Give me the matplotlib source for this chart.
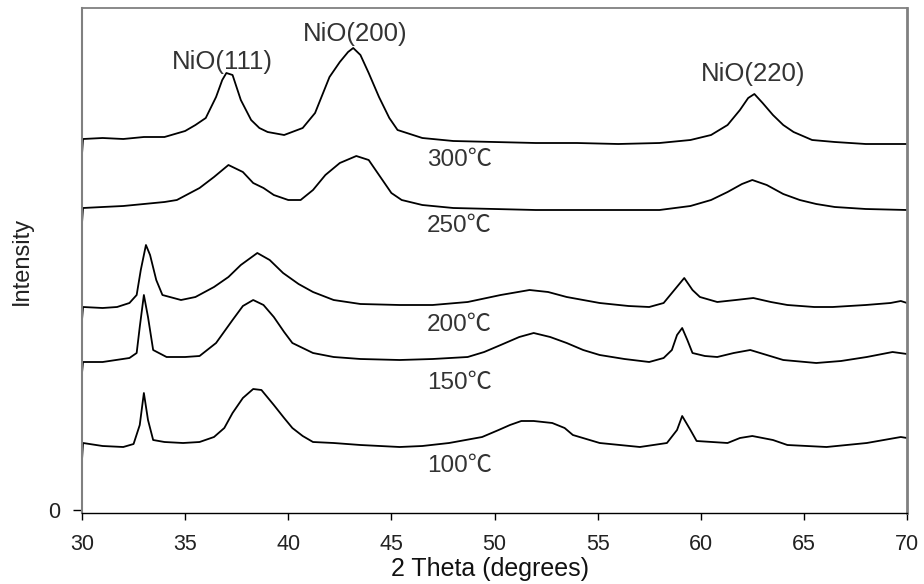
import matplotlib
matplotlib.use('Agg')
import matplotlib.pyplot as plt

plt.rcParams['font.family'] = ['Liberation Sans', 'Noto Sans CJK KR', 'DejaVu Sans']

# XRD patterns, offset already included (arbitrary units)
tt300 = [30.0, 30.05, 31, 32, 33, 34, 35, 35.5, 36, 36.5, 36.8, 37.0, 37.3, 37.7, 38.2, 38.6, 39.0, 39.8,
         40.7, 41.3, 42.0, 42.5, 42.9, 43.15, 43.5, 43.9, 44.4, 44.9, 45.3, 46.5, 48, 50, 52, 54, 56, 58,
         59.5, 60.5, 61.3, 61.9, 62.3, 62.6, 63.0, 63.5, 64.0, 64.5, 65.4, 66.5, 68, 70]
i300 = [356, 371, 372, 371, 373, 373, 379, 385, 392, 413, 430, 437, 435, 410, 390, 382, 378, 375,
        382, 397, 433, 448, 458, 462, 455, 437, 413, 392, 380, 372, 369, 368, 367, 367, 366, 367,
        370, 375, 385, 400, 412, 416, 407, 395, 385, 378, 370, 368, 366, 366]

tt250 = [30.0, 30.05, 31, 32, 33, 34, 34.6, 35.7, 36.4, 37.1, 37.8, 38.3, 38.8, 39.3, 40.0, 40.6, 41.2,
         41.8, 42.5, 43.3, 43.9, 44.5, 45.0, 45.5, 46.5, 48, 50, 52, 54, 56, 58, 59.5, 60.5, 61.3, 62.0,
         62.5, 63.2, 64.0, 64.8, 65.6, 66.5, 68, 70]
i250 = [287, 302, 303, 304, 306, 308, 310, 322, 333, 345, 338, 327, 322, 315, 310, 310, 320,
        335, 347, 354, 350, 332, 317, 310, 305, 302, 301, 300, 300, 300, 300, 304, 310, 318, 326,
        330, 325, 316, 310, 306, 303, 301, 300]

tt200 = [30.0, 30.05, 31, 31.7, 32.3, 32.65, 32.85, 33.1, 33.3, 33.6, 33.9, 34.8, 35.5, 36.4, 37.1, 37.7,
         38.5, 39.1, 39.75, 40.5, 41.2, 42.2, 43.5, 45.4, 47, 48.7, 50.3, 51.7, 52.6, 53.5, 55.1, 56.5,
         57.5, 58.2, 58.6, 59.2, 59.6, 59.96, 60.8, 61.7, 62.55, 63.4, 64.2, 65.5, 66.4, 68, 69.2, 69.7, 70]
i200 = [190, 203, 202, 203, 207, 215, 240, 265, 255, 230, 215, 210, 213, 223, 233, 245,
        257, 250, 237, 226, 218, 210, 206, 205, 205, 208, 215, 220, 218, 213, 207, 204,
        203, 207, 217, 232, 220, 213, 208, 210, 212, 208, 205, 203, 203, 205, 207, 209, 207]

tt150 = [30.0, 30.05, 31, 32.3, 32.65, 32.8, 33.0, 33.2, 33.45, 34.1, 35, 35.7, 36.5, 37.3, 37.8, 38.3,
         38.8, 39.3, 39.8, 40.2, 40.6, 41.2, 42.2, 43.5, 45.4, 47, 48.7, 49.5, 50.3, 51.2, 51.9, 52.7,
         53.5, 54.3, 55.1, 56.3, 57.5, 58.2, 58.6, 58.85, 59.1, 59.35, 59.6, 60.2, 60.8, 61.6, 62.4,
         63.2, 64, 65.6, 66.8, 68.05, 69.3, 70]
i150 = [137, 148, 148, 152, 157, 183, 215, 193, 160, 153, 153, 154, 167, 190, 204, 210,
        205, 193, 178, 167, 163, 157, 153, 151, 150, 151, 153, 158, 165, 173, 177, 173,
        167, 160, 155, 151, 148, 152, 160, 175, 182, 170, 157, 154, 153, 157, 160,
        155, 150, 147, 149, 153, 158, 156]

tt100 = [30.0, 30.05, 31, 32, 32.5, 32.8, 33.0, 33.2, 33.45, 34, 34.9, 35.7, 36.4, 36.9, 37.3, 37.8,
         38.3, 38.7, 39.3, 39.8, 40.2, 40.7, 41.2, 42.2, 43.5, 45.4, 46.5, 47.8, 49.4, 50.2, 50.75,
         51.3, 51.9, 52.8, 53.4, 53.8, 55.1, 57.05, 58.36, 58.85, 59.1, 59.5, 59.8, 61.3, 61.9, 62.5,
         63.5, 64.2, 66.1, 68.05, 69.7, 70]
i100 = [50, 67, 64, 63, 66, 85, 117, 90, 70, 68, 67, 68, 73, 82, 97, 112,
        121, 120, 105, 92, 82, 74, 68, 67, 65, 63, 64, 67, 73, 80, 85,
        89, 89, 87, 82, 75, 67, 63, 67, 80, 94, 80, 69, 67, 72, 74,
        70, 65, 63, 67, 73, 72]

temps = ['300℃', '250℃', '200℃', '150℃', '100℃']
temp_y = [350, 284, 185, 127, 44]
peaks = ['NiO(111)', 'NiO(200)', 'NiO(220)']
peak_x = [36.79, 43.24, 62.53]
peak_y = [448, 476, 436]

fig = plt.figure(figsize=(9.24, 5.84), dpi=100)
ax = fig.add_axes([82/924, 1-513/584, 825/924, 505/584])

for x, y in [(tt300, i300), (tt250, i250), (tt200, i200), (tt150, i150), (tt100, i100)]:
    ax.plot(x, y, color='black', linewidth=1.3)

for t, y in zip(temps, temp_y):
    ax.text(46.73, y, t, fontsize=17.5, color='#333333', ha='left', va='center')
for p, x, y in zip(peaks, peak_x, peak_y):
    ax.text(x, y, p, fontsize=18.5, color='#333333', ha='center', va='center')

ax.set_xlim(30, 70)
ax.set_ylim(-3, 502)
ax.set_xticks(range(30, 71, 5))
ax.set_yticks([0])
ax.tick_params(axis='x', direction='out', length=5, width=1, pad=10, labelsize=15.5, labelcolor='#222222')
ax.tick_params(axis='y', direction='out', length=6.5, width=1, pad=9, labelsize=15.5, labelcolor='#222222')
ax.set_xlabel('2 Theta (degrees)', fontsize=18, color='#111111')
ax.xaxis.set_label_coords(0.494, -0.087)
ax.set_ylabel('Intensity', fontsize=17, color='#222222', labelpad=11)

ax.spines['left'].set_color('#808080')
ax.spines['left'].set_linewidth(1.5)
ax.spines['top'].set_color('#808080')
ax.spines['top'].set_linewidth(1.3)
ax.spines['right'].set_color('#808080')
ax.spines['right'].set_linewidth(2)
ax.spines['bottom'].set_color('black')
ax.spines['bottom'].set_linewidth(1)

plt.savefig('out.png', dpi=100)
